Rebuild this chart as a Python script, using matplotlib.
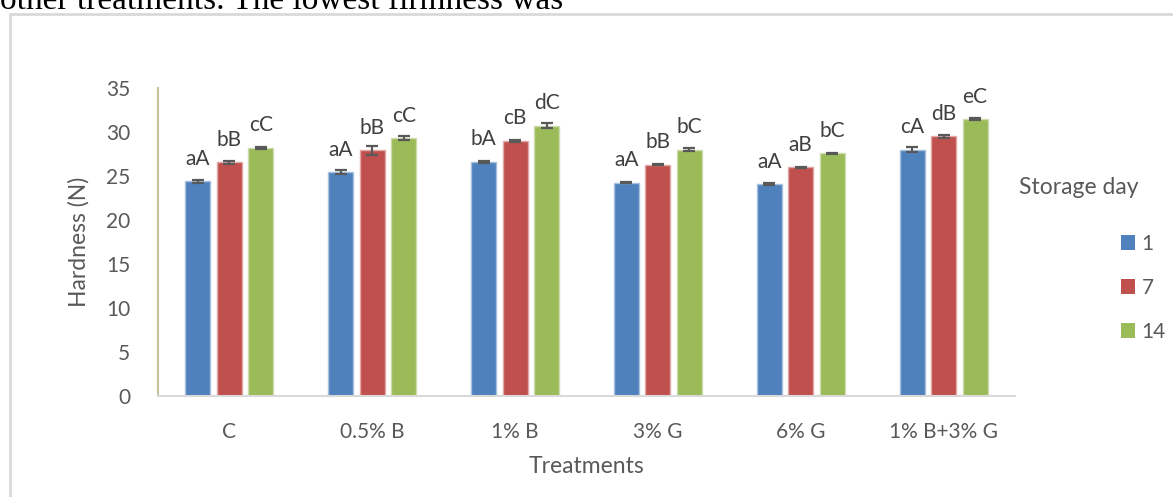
import numpy as np
import matplotlib.pyplot as plt
from matplotlib.patches import Patch, Rectangle

# Hardness (N) per treatment and storage day, with letters from the mean comparison
treatments = ['C', '0.5% B', '1% B', '3% G', '6% G', '1% B+3% G']
days = ['1', '7', '14']
day1 = [24.4, 25.45, 26.6, 24.25, 24.05, 28.0]
day7 = [26.55, 27.9, 29.0, 26.3, 26.0, 29.5]
day14 = [28.2, 29.3, 30.7, 28.0, 27.6, 31.45]
err1 = [0.15, 0.2, 0.15, 0.1, 0.1, 0.3]
err7 = [0.2, 0.5, 0.1, 0.1, 0.05, 0.15]
err14 = [0.1, 0.2, 0.3, 0.2, 0.05, 0.1]
letters1 = ['aA', 'aA', 'bA', 'aA', 'aA', 'cA']
letters7 = ['bB', 'bB', 'cB', 'bB', 'aB', 'dB']
letters14 = ['cC', 'cC', 'dC', 'bC', 'bC', 'eC']

colors = ['#4f81bd', '#c0504d', '#9bbb59']
edges = ['#a7c0de', '#e0a8a6', '#cddcac']
grey = '#595959'

plt.rcParams['font.family'] = ['Lato', 'DejaVu Sans']

fig = plt.figure(figsize=(11.73, 4.97), dpi=100)
ax = fig.add_axes([158 / 1173, 1 - 396 / 497, 857 / 1173, 308 / 497])

x = np.arange(len(treatments))
w = 0.175
step = 0.22
series = [(day1, err1, letters1), (day7, err7, letters7), (day14, err14, letters14)]
for k, (vals, errs, labs) in enumerate(series):
    pos = x + (k - 1) * step
    ax.bar(pos, vals, width=w, color=colors[k], edgecolor=edges[k], linewidth=1)
    ax.errorbar(pos, vals, yerr=errs, fmt='none', ecolor=grey, elinewidth=1.6,
                capsize=4.5, capthick=1.6)
    for p, v, t in zip(pos, vals, labs):
        ax.annotate(t, (p, v), xytext=(0, 9), textcoords='offset points',
                    ha='center', va='bottom', fontsize=15, color='#404040')

ax.set_xlim(-0.5, len(treatments) - 0.5)
ax.set_ylim(0, 35)
ax.set_yticks(range(0, 36, 5))
ax.set_xticks(x)
ax.set_xticklabels(treatments)
ax.tick_params(axis='both', length=0, labelsize=15, labelcolor=grey)
ax.tick_params(axis='x', pad=19)
ax.tick_params(axis='y', pad=20)

for s in ['top', 'right']:
    ax.spines[s].set_visible(False)
ax.spines['left'].set_color('#c9c19b')
ax.spines['left'].set_linewidth(1.5)
ax.spines['bottom'].set_color('#d9d9d9')
ax.spines['bottom'].set_linewidth(1.5)

ax.set_ylabel('Hardness (N)', fontsize=16.5, color=grey, labelpad=12)
ax.set_xlabel('Treatments', fontsize=16.5, color=grey, labelpad=10)

# legend: title set apart on the left, square swatches below
fig.text(1079 / 1173, 1 - 187 / 497, 'Storage day', ha='center', va='center',
         fontsize=16.5, color=grey)
handles = [Patch(facecolor=c, edgecolor='none') for c in colors]
fig.legend(handles, days, loc='center left', bbox_to_anchor=(1102 / 1173, 1 - 288 / 497),
           frameon=False, fontsize=15, labelcolor=grey, handlelength=0.7,
           handleheight=0.7, handletextpad=0.3, labelspacing=1.15)

# surrounding page: frame and the line of text above it
fig.patches.append(Rectangle((9.5 / 1173, -0.1), 1.2, 1.1 - 14 / 497,
                             transform=fig.transFigure, fill=False,
                             edgecolor='#d9d9d9', linewidth=2))
fig.text(0, 1 - 9 / 497, 'other treatments. The lowest firmness was', ha='left',
         va='baseline', fontsize=24, family='Liberation Serif', color='black')

fig.savefig('out.png', dpi=100)
